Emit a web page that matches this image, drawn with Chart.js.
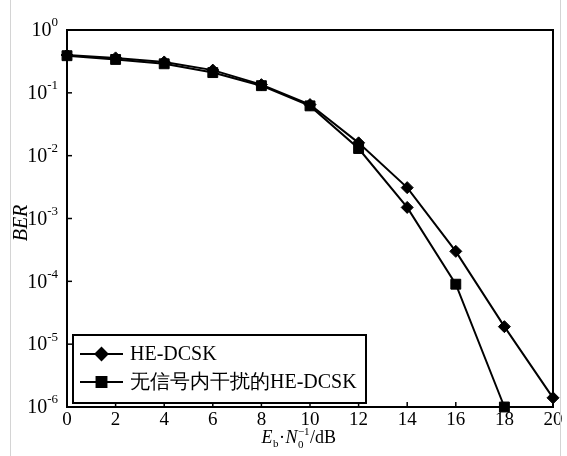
<!DOCTYPE html>
<html>
<head>
<meta charset="utf-8">
<script src="https://cdn.jsdelivr.net/npm/chart.js@4.4.1/dist/chart.umd.min.js"></script>
<style>
  html, body { margin: 0; padding: 0; background: #fff; }
  #wrap { position: relative; width: 567px; height: 456px; }
  #wrap::before, #wrap::after {
    content: ''; position: absolute; top: 0; bottom: 0; width: 1px; background: #d4d4d4;
  }
  #wrap::before { left: 10px; }
  #wrap::after { left: 560px; }
</style>
</head>
<body>
<div id="wrap"><canvas id="ber-chart"></canvas></div>
<script>
// ── Data ─────────────────────────────────────────────
const snrDb      = [0, 2, 4, 6, 8, 10, 12, 14, 16, 18, 20];
const berHE      = [0.40, 0.36, 0.31, 0.23, 0.135, 0.065, 0.016, 0.0031, 3.0e-4, 1.9e-5, 1.4e-6];
const berNoISI   = [0.39, 0.34, 0.29, 0.21, 0.13, 0.062, 0.013, 0.0015, 9.0e-5, 1.0e-6];
const seriesNames = ['HE-DCSK', '无信号内干扰的HE-DCSK'];
const yTickExps  = [0, -1, -2, -3, -4, -5, -6];
const xTickStep  = 2;

const SERIF = "'Liberation Serif', 'DejaVu Serif', serif";

// marker style per point; the reference shows a diamond at 14 dB on the lower curve
const noIsiStyles = berNoISI.map((_, i) => (snrDb[i] === 14 ? 'rectRot' : 'rect'));
const noIsiRadius = noIsiStyles.map(s => (s === 'rectRot' ? 6 : 7));

// ── Frame, ticks, labels, legend ──────────────────────
const decorPlugin = {
  id: 'decor',
  beforeDatasetsDraw(chart) {
    const { ctx, chartArea: a, scales } = chart;
    ctx.save();
    ctx.strokeStyle = '#000';
    ctx.lineWidth = 2;
    ctx.strokeRect(a.left, a.top, a.right - a.left, a.bottom - a.top);

    // inward ticks on x
    ctx.lineWidth = 1.5;
    for (let v = scales.x.min; v <= scales.x.max; v += xTickStep) {
      const px = scales.x.getPixelForValue(v);
      ctx.beginPath();
      ctx.moveTo(px, a.bottom);
      ctx.lineTo(px, a.bottom - 5);
      ctx.stroke();
    }
    // inward ticks + labels on y
    ctx.fillStyle = '#000';
    ctx.textBaseline = 'middle';
    for (const e of yTickExps) {
      const py = scales.y.getPixelForValue(Math.pow(10, e));
      ctx.beginPath();
      ctx.moveTo(a.left, py);
      ctx.lineTo(a.left + 5, py);
      ctx.stroke();

      const expTxt = e < 0 ? '-' + Math.abs(e) : String(e);
      ctx.font = `13px ${SERIF}`;
      const expW = ctx.measureText(expTxt).width;
      const right = a.left - 9;
      ctx.textAlign = 'left';
      ctx.fillText(expTxt, right - expW, py - 7);
      ctx.font = `20px ${SERIF}`;
      ctx.textAlign = 'right';
      ctx.fillText('10', right - expW, py + 1);
    }

    // y title
    ctx.save();
    ctx.translate(22, 223);
    ctx.rotate(-Math.PI / 2);
    ctx.font = `italic 20px ${SERIF}`;
    ctx.textAlign = 'center';
    ctx.textBaseline = 'middle';
    ctx.fillText('BER', 0, 0);
    ctx.restore();

    // x title: E_b·N_0^-1/dB
    const parts = [
      { t: 'E', f: `italic 18px ${SERIF}`, dy: 0 },
      { t: 'b', f: `11px ${SERIF}`, dy: 4 },
      { t: '\u00b7', f: `18px ${SERIF}`, dy: 0 },
      { t: 'N', f: `italic 18px ${SERIF}`, dy: 0 },
      { t: '0', f: `11px ${SERIF}`, dy: 5, stackWith: '\u22121' },
      { t: '/dB', f: `18px ${SERIF}`, dy: 0 },
    ];
    ctx.textBaseline = 'alphabetic';
    ctx.textAlign = 'left';
    let total = 0;
    for (const p of parts) {
      ctx.font = p.f;
      p.w = ctx.measureText(p.t).width;
      if (p.stackWith) p.w = Math.max(p.w, ctx.measureText(p.stackWith).width);
      total += p.w + 0.5;
    }
    let x = 299 - total / 2;
    const base = 443;
    for (const p of parts) {
      ctx.font = p.f;
      ctx.fillText(p.t, x, base + p.dy);
      if (p.stackWith) ctx.fillText(p.stackWith, x, base - 8);
      x += p.w + 0.5;
    }
    ctx.restore();
  },
  afterDatasetsDraw(chart) {
    const { ctx } = chart;
    const box = { l: 73, t: 335, r: 366, b: 403 };
    ctx.save();
    ctx.fillStyle = '#fff';
    ctx.fillRect(box.l, box.t, box.r - box.l, box.b - box.t);
    ctx.strokeStyle = '#000';
    ctx.lineWidth = 2;
    ctx.strokeRect(box.l, box.t, box.r - box.l, box.b - box.t);

    chart.data.datasets.forEach((ds, i) => {
      const y = 354 + i * 28;
      ctx.lineWidth = 2;
      ctx.beginPath();
      ctx.moveTo(80, y);
      ctx.lineTo(123, y);
      ctx.stroke();
      const style = Array.isArray(ds.pointStyle) ? ds.pointStyle[0] : ds.pointStyle;
      const radius = Array.isArray(ds.pointRadius) ? ds.pointRadius[0] : ds.pointRadius;
      ctx.fillStyle = '#000';
      Chart.helpers.drawPoint(ctx, { pointStyle: style, radius: radius, rotation: 0, borderWidth: 1 }, 101.5, y);
      ctx.fillStyle = '#000';
      ctx.font = `20px ${SERIF}`;
      ctx.textAlign = 'left';
      ctx.textBaseline = 'middle';
      ctx.fillText(ds.label, 130, y + 1);
    });
    ctx.restore();
  },
};

const ctx = document.getElementById('ber-chart').getContext('2d');
new Chart(ctx, {
  type: 'line',
  data: {
    datasets: [
      {
        label: seriesNames[0],
        data: snrDb.map((x, i) => ({ x, y: berHE[i] })),
        borderColor: '#000',
        backgroundColor: '#000',
        borderWidth: 2,
        pointStyle: 'rectRot',
        pointRadius: 6,
        pointBorderWidth: 1,
        tension: 0,
        clip: false,
      },
      {
        label: seriesNames[1],
        data: berNoISI.map((y, i) => ({ x: snrDb[i], y })),
        borderColor: '#000',
        backgroundColor: '#000',
        borderWidth: 2,
        pointStyle: noIsiStyles,
        pointRadius: noIsiRadius,
        pointBorderWidth: 1,
        tension: 0,
        clip: false,
      },
    ],
  },
  options: {
    responsive: true,
    maintainAspectRatio: false,
    animation: false,
    layout: { padding: { left: 10, top: 30, right: 14, bottom: 0 } },
    plugins: {
      legend: { display: false },
      tooltip: { enabled: false },
    },
    scales: {
      x: {
        type: 'linear',
        min: 0,
        max: 20,
        grid: { display: false, drawTicks: false },
        border: { display: false },
        ticks: {
          stepSize: xTickStep,
          autoSkip: false,
          maxRotation: 0,
          padding: 2,
          color: '#000',
          font: { family: SERIF, size: 19 },
        },
        afterFit: s => { s.height = 49; },
      },
      y: {
        type: 'logarithmic',
        min: 1e-6,
        max: 1,
        grid: { display: false, drawTicks: false },
        border: { display: false },
        ticks: { display: false },
        afterFit: s => { s.width = 57; },
      },
    },
  },
  plugins: [decorPlugin],
});
</script>
</body>
</html>
